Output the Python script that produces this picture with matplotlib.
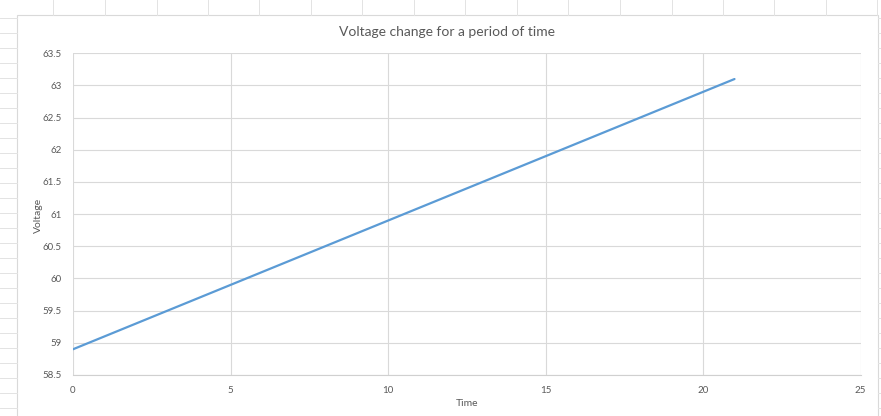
import matplotlib
matplotlib.use("Agg")
import matplotlib.pyplot as plt

time = [0, 1, 2, 3, 4, 5, 6, 7, 8, 9, 10, 11, 12, 13, 14, 15, 16, 17, 18, 19, 20, 21]
voltage = [58.9, 59.1, 59.3, 59.5, 59.7, 59.9, 60.1, 60.3, 60.5, 60.7, 60.9,
           61.1, 61.3, 61.5, 61.7, 61.9, 62.1, 62.3, 62.5, 62.7, 62.9, 63.1]
x_ticks = [0, 5, 10, 15, 20, 25]
y_ticks = [58.5, 59, 59.5, 60, 60.5, 61, 61.5, 62, 62.5, 63, 63.5]

plt.rcParams["font.family"] = ["Lato", "DejaVu Sans"]
W, H = 881, 416
fig = plt.figure(figsize=(W / 100, H / 100), dpi=100)

# sheet cells showing around the chart object (pixel coordinates)
bg = fig.add_axes([0, 0, 1, 1])
bg.set_xlim(0, W)
bg.set_ylim(H, 0)
bg.axis("off")
cell = "#e3e3e3"
for cx in [53, 105, 157, 208, 259, 311, 362, 414, 465, 517, 568, 620, 672, 723, 774, 826, 877]:
    bg.plot([cx, cx], [0, 15], color=cell, lw=0.7)
for ry in range(18, H, 15):
    bg.plot([0, 17], [ry, ry], color=cell, lw=0.7)
    bg.plot([878, W], [ry, ry], color=cell, lw=0.7)
bg.add_patch(plt.Rectangle((17, 15), 861, H, facecolor="white",
                           edgecolor="#d9d9d9", lw=0.8))

ax = fig.add_axes([73 / W, 1 - 375 / H, (860.5 - 73) / W, (375 - 53.3) / H])
ax.plot(time, voltage, color="#5b9bd5", lw=1.6, solid_capstyle="round")
ax.set_xlim(0, 25)
ax.set_ylim(58.5, 63.5)
ax.set_xticks(x_ticks)
ax.set_yticks(y_ticks)
ax.set_xticklabels([f"{v:g}" for v in x_ticks])
ax.set_yticklabels([f"{v:g}" for v in y_ticks])
ax.grid(True, color="#d9d9d9", lw=0.8)
ax.set_axisbelow(True)
for s in ["top", "right", "left"]:
    ax.spines[s].set_visible(False)
ax.spines["bottom"].set_color("#d0d0d0")
ax.spines["bottom"].set_linewidth(0.8)
ax.tick_params(length=0, labelsize=7, labelcolor="#595959", pad=8)
ax.set_xlabel("Time", fontsize=7.5, color="#595959")
ax.set_ylabel("Voltage", fontsize=7.5, color="#595959")
ax.xaxis.set_label_coords((467 - 73) / 787.5, -(403 - 375) / 321.7)
ax.yaxis.set_label_coords(-(73 - 38) / 787.5, (375 - 215) / 321.7)
ax.xaxis.label.set_va("center")
ax.yaxis.label.set_va("center")

fig.text(447 / W, 1 - 32 / H, "Voltage change for a period of time",
         ha="center", va="center", fontsize=10, color="#595959")

fig.savefig("out.png", dpi=100)
